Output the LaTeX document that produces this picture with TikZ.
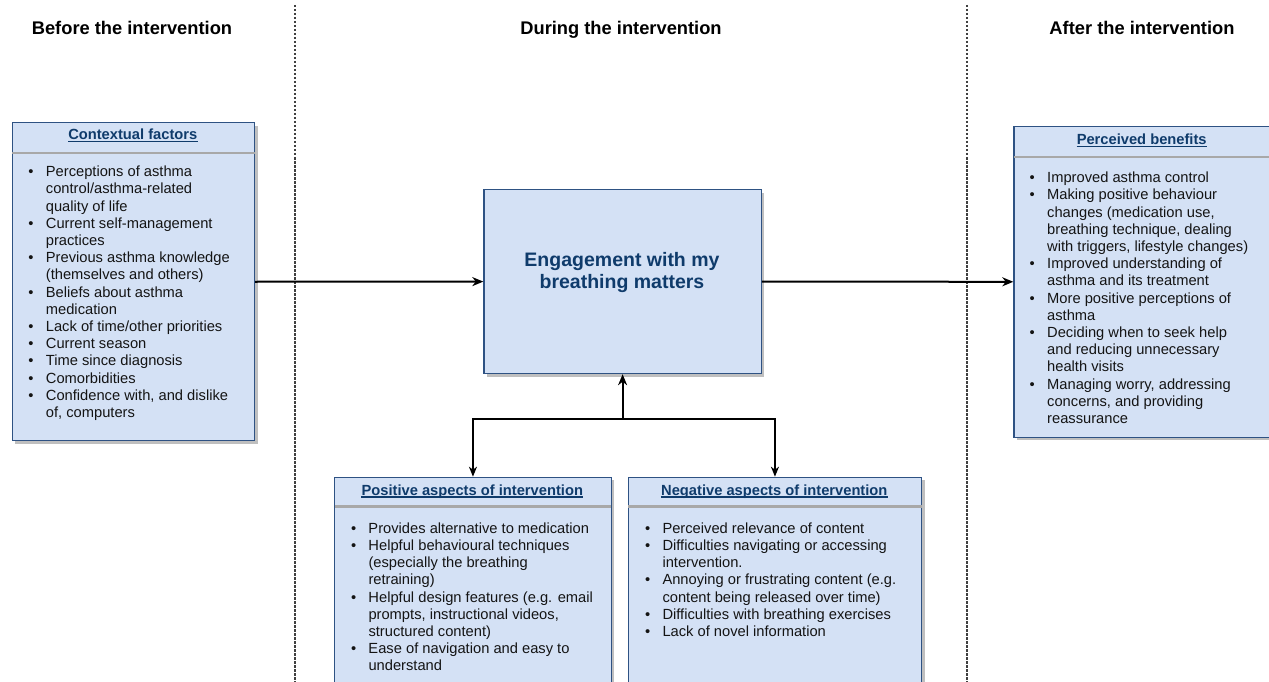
\documentclass[tikz,border=0pt]{standalone}
\usepackage{fontspec}
\setmainfont{Liberation Sans}
\usetikzlibrary{arrows.meta,shadows}
\definecolor{boxfill}{HTML}{D4E1F5}
\definecolor{boxline}{HTML}{2E5283}
\definecolor{navy}{HTML}{0F3B6B}
\definecolor{sepgrey}{HTML}{A8A8A8}
\definecolor{bodytext}{HTML}{141414}
\newcommand\bodyfont{\fontsize{14.7}{17.2}\selectfont}
\newcommand\bl{\textbullet}
\tikzset{
 box/.style={draw=boxline, line width=1.2pt, fill=boxfill, rectangle, inner sep=0pt, anchor=north west,
   drop shadow={shadow xshift=3pt, shadow yshift=-3pt, fill=black, opacity=0.25}},
 hdr/.style={font=\bfseries\bodyfont, text=navy, inner sep=0pt, anchor=base},
 lst/.style={font=\bodyfont, text=bodytext, inner sep=0pt, anchor=base west},
 sepline/.style={draw=sepgrey, line width=2.2pt},
 uline/.style={draw=navy, line width=1.2pt},
 coltitle/.style={font=\bfseries\fontsize{18.3}{22}\selectfont, inner sep=0pt, anchor=base},
 maintitle/.style={font=\bfseries\fontsize{19.5}{22.3}\selectfont, text=navy, inner sep=0pt, anchor=base},
 divider/.style={draw=black!75, line width=1.3pt, dash pattern=on 2.5pt off 1.5pt},
 arr/.style={draw=black, line width=2pt, -{Stealth[length=11pt,width=9pt,inset=3.5pt]}},
 arrthin/.style={draw=black, line width=1.4pt, -{Stealth[length=10pt,width=8pt,inset=3pt]}},
}
\begin{document}
\begin{tikzpicture}[x=1pt,y=-1pt]
\useasboundingbox (0,0) rectangle (1269,682);
\clip (0,0) rectangle (1269,682);
\fill[white] (0,0) rectangle (1269,682);

% dividers
\coordinate (d1t) at (295,5); \coordinate (d1b) at (295,682);
\coordinate (d2t) at (967,5); \coordinate (d2b) at (967,682);
\draw[divider] (d1t) -- (d1b);
\draw[divider] (d2t) -- (d2b);

% column titles
\node[coltitle] (c1) at (132,34.3) {Before the intervention};
\node[coltitle] (c2) at (621,34.3) {During the intervention};
\node[coltitle] (c3) at (1142,34.3) {After the intervention};

% boxes
\node[box, minimum width=242.3pt, minimum height=317.7pt] (ctx) at (11.7,122.3) {};
\node[box, minimum width=256.7pt, minimum height=311pt] (ben) at (1013.3,125.7) {};
\node[box, minimum width=277.4pt, minimum height=184pt] (eng) at (483.3,189) {};
\node[box, minimum width=276.7pt, minimum height=250pt] (pos) at (334,476.7) {};
\node[box, minimum width=293.3pt, minimum height=250pt] (neg) at (627.7,476.7) {};

% separators
\draw[sepline] ([xshift=0.6pt]ctx.west |- 0,152.7) -- ([xshift=-0.6pt]ctx.east |- 0,152.7);
\draw[sepline] ([xshift=0.6pt]ben.west |- 0,156.7) -- ([xshift=-0.6pt]ben.east |- 0,156.7);
\draw[sepline] ([xshift=0.6pt]pos.west |- 0,506.5) -- ([xshift=-0.6pt]pos.east |- 0,506.5);
\draw[sepline] ([xshift=0.6pt]neg.west |- 0,506.5) -- ([xshift=-0.6pt]neg.east |- 0,506.5);

% headers
\node[hdr] (h1) at (132.8,139.3) {Contextual factors};
\node[hdr] (h2) at (1141.7,144.3) {Perceived benefits};
\node[hdr] (h3) at (472.3,495) {Positive aspects of intervention};
\node[hdr] (h4) at (774.3,495) {Negative aspects of intervention};
\foreach \h in {h1,h2,h3,h4}{
  \draw[uline] ([yshift=-2pt]\h.base west) -- ([yshift=-2pt]\h.base east);
}

% main title
\node[maintitle] (t1) at (622,266) {Engagement with my};
\node[maintitle] (t2) at (622,288.3) {breathing matters};

% lists
\node[lst] (l1) at (28.2,176.7) {\begin{tabular}[t]{@{}p{17.5pt}@{}l@{}}
\bl & Perceptions of asthma\\
 & control/asthma-related\\
 & quality of life\\
\bl & Current self-management\\
 & practices\\
\bl & Previous asthma knowledge\\
 & (themselves and others)\\
\bl & Beliefs about asthma\\
 & medication\\
\bl & Lack of time/other priorities\\
\bl & Current season\\
\bl & Time since diagnosis\\
\bl & Comorbidities\\
\bl & Confidence with, and dislike\\
 & of, computers
\end{tabular}};

\node[lst] (l2) at (1029.5,182.7) {\begin{tabular}[t]{@{}p{17.5pt}@{}l@{}}
\bl & Improved asthma control\\
\bl & Making positive behaviour\\
 & changes (medication use,\\
 & breathing technique, dealing\\
 & with triggers, lifestyle changes)\\
\bl & Improved understanding of\\
 & asthma and its treatment\\
\bl & More positive perceptions of\\
 & asthma\\
\bl & Deciding when to seek help\\
 & and reducing unnecessary\\
 & health visits\\
\bl & Managing worry, addressing\\
 & concerns, and providing\\
 & reassurance
\end{tabular}};

\node[lst] (l3) at (350.8,533.3) {\begin{tabular}[t]{@{}p{17.5pt}@{}l@{}}
\bl & Provides alternative to medication\\
\bl & Helpful behavioural techniques\\
 & (especially the breathing\\
 & retraining)\\
\bl & Helpful design features (e.g. email\\
 & prompts, instructional videos,\\
 & structured content)\\
\bl & Ease of navigation and easy to\\
 & understand
\end{tabular}};

\node[lst] (l4) at (644.8,533.3) {\begin{tabular}[t]{@{}p{17.5pt}@{}l@{}}
\bl & Perceived relevance of content\\
\bl & Difficulties navigating or accessing\\
 & intervention.\\
\bl & Annoying or frustrating content (e.g.\\
 & content being released over time)\\
\bl & Difficulties with breathing exercises\\
\bl & Lack of novel information
\end{tabular}};

% connectors
\draw[arr] (ctx.east) -- (eng.west);
\draw[arr] (eng.east) -- (ben.west);
\coordinate (j) at (eng.south |- 0,419);
\draw[arr] (j) -- (eng.south);
\draw[arrthin] (j) -| (pos.north);
\draw[arrthin] (j) -| (neg.north);
\end{tikzpicture}
\end{document}
